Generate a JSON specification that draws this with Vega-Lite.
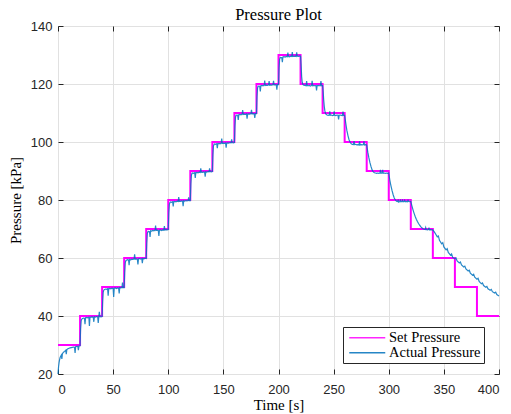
{
  "$schema": "https://vega.github.io/schema/vega-lite/v6.json",
  "width": 441,
  "height": 348,
  "autosize": "none",
  "padding": {"left": 58, "top": 26, "right": 12, "bottom": 40},
  "background": "white",
  "title": {"text": "Pressure Plot", "font": "Liberation Serif", "fontSize": 16.5, "fontWeight": "normal", "color": "#000000", "offset": -3, "anchor": "middle"},
  "config": {
    "view": {"stroke": "#262626", "strokeWidth": 1},
    "axis": {
      "domain": false,
      "labelFont": "Liberation Sans",
      "labelFontSize": 13,
      "labelColor": "#262626",
      "titleFont": "Liberation Serif",
      "titleFontSize": 15,
      "titleFontWeight": "normal",
      "titleColor": "#000000",
      "tickColor": "#262626",
      "tickSize": -5,
      "labelPadding": 11,
      "gridColor": "#e1e1e1",
      "gridWidth": 1
    }
  },
  "datasets": {
    "set": [
      {"t": 0, "p": 30}, {"t": 20, "p": 40}, {"t": 40, "p": 50}, {"t": 60, "p": 60}, {"t": 80, "p": 70},
      {"t": 100, "p": 80}, {"t": 120, "p": 90}, {"t": 140, "p": 100}, {"t": 160, "p": 110}, {"t": 180, "p": 120},
      {"t": 200, "p": 130}, {"t": 220, "p": 120}, {"t": 240, "p": 110}, {"t": 260, "p": 100}, {"t": 280, "p": 90},
      {"t": 300, "p": 80}, {"t": 320, "p": 70}, {"t": 340, "p": 60}, {"t": 360, "p": 50}, {"t": 380, "p": 40}, {"t": 400, "p": 40}
    ],
    "actual": [
      {"t": 0, "p": 20}, {"t": 0.5, "p": 22.5}, {"t": 1, "p": 24}, {"t": 1.5, "p": 25}, {"t": 2, "p": 25.8}, {"t": 3, "p": 26.5}, {"t": 3.5, "p": 25.2}, {"t": 4, "p": 27}, {"t": 5, "p": 27.5}, {"t": 6, "p": 27.8}, {"t": 7, "p": 28.2}, {"t": 7.5, "p": 26.8}, {"t": 8, "p": 28.4}, {"t": 9, "p": 28.7}, {"t": 10, "p": 28.9}, {"t": 11, "p": 29}, {"t": 12, "p": 29.1}, {"t": 13, "p": 29.2}, {"t": 14, "p": 29.3}, {"t": 15, "p": 29.2}, {"t": 15.5, "p": 27.3}, {"t": 16, "p": 29.4}, {"t": 17, "p": 29.5}, {"t": 18, "p": 29.5}, {"t": 18.5, "p": 28.2}, {"t": 19, "p": 29.6}, {"t": 20, "p": 29.7},
      {"t": 20.5, "p": 35.5}, {"t": 21, "p": 38.3}, {"t": 21.5, "p": 38.9}, {"t": 22, "p": 39.1}, {"t": 23, "p": 39.3}, {"t": 24, "p": 39.2}, {"t": 24.5, "p": 37.2}, {"t": 25, "p": 39.4}, {"t": 26, "p": 39.5}, {"t": 27, "p": 39.4}, {"t": 28, "p": 39.6}, {"t": 28.5, "p": 36.6}, {"t": 29, "p": 39.5}, {"t": 30, "p": 39.6}, {"t": 31, "p": 39.7}, {"t": 32, "p": 39.5}, {"t": 32.5, "p": 38}, {"t": 33, "p": 39.7}, {"t": 34, "p": 39.6}, {"t": 35, "p": 39.8}, {"t": 36, "p": 39.7}, {"t": 36.5, "p": 37.6}, {"t": 37, "p": 39.8}, {"t": 37.5, "p": 41.4}, {"t": 38, "p": 39.8}, {"t": 39, "p": 39.7}, {"t": 40, "p": 39.8},
      {"t": 40.5, "p": 45}, {"t": 41, "p": 48.2}, {"t": 41.5, "p": 48.9}, {"t": 42, "p": 49.1}, {"t": 43, "p": 49.3}, {"t": 44, "p": 49.2}, {"t": 45, "p": 49.4}, {"t": 45.5, "p": 47}, {"t": 46, "p": 49.4}, {"t": 47, "p": 49.5}, {"t": 48, "p": 49.4}, {"t": 49, "p": 49.6}, {"t": 50, "p": 49.5}, {"t": 50.5, "p": 46.6}, {"t": 51, "p": 49.6}, {"t": 52, "p": 49.7}, {"t": 53, "p": 49.5}, {"t": 54, "p": 49.7}, {"t": 55, "p": 49.6}, {"t": 55.5, "p": 47.8}, {"t": 56, "p": 49.8}, {"t": 57, "p": 49.7}, {"t": 58, "p": 49.8}, {"t": 58.5, "p": 51.5}, {"t": 59, "p": 49.8}, {"t": 60, "p": 49.8},
      {"t": 60.5, "p": 55}, {"t": 61, "p": 58.3}, {"t": 61.5, "p": 59}, {"t": 62, "p": 59.2}, {"t": 63, "p": 59.4}, {"t": 64, "p": 59.3}, {"t": 64.5, "p": 57.5}, {"t": 65, "p": 59.5}, {"t": 66, "p": 59.4}, {"t": 67, "p": 59.6}, {"t": 68, "p": 59.5}, {"t": 69, "p": 59.7}, {"t": 69.5, "p": 61.3}, {"t": 70, "p": 59.6}, {"t": 71, "p": 59.7}, {"t": 72, "p": 59.5}, {"t": 72.5, "p": 57.8}, {"t": 73, "p": 59.7}, {"t": 74, "p": 59.8}, {"t": 75, "p": 59.6}, {"t": 76, "p": 59.8}, {"t": 76.5, "p": 58.2}, {"t": 77, "p": 59.8}, {"t": 78, "p": 59.7}, {"t": 79, "p": 59.9}, {"t": 80, "p": 59.8},
      {"t": 80.5, "p": 65}, {"t": 81, "p": 68.4}, {"t": 81.5, "p": 69}, {"t": 82, "p": 69.2}, {"t": 83, "p": 69.1}, {"t": 83.5, "p": 67.3}, {"t": 84, "p": 69.4}, {"t": 85, "p": 69.3}, {"t": 86, "p": 69.5}, {"t": 87, "p": 69.4}, {"t": 88, "p": 69.6}, {"t": 88.5, "p": 71.2}, {"t": 89, "p": 69.5}, {"t": 90, "p": 69.6}, {"t": 91, "p": 69.4}, {"t": 91.5, "p": 67.6}, {"t": 92, "p": 69.6}, {"t": 93, "p": 69.7}, {"t": 94, "p": 69.5}, {"t": 95, "p": 69.7}, {"t": 96, "p": 69.6}, {"t": 96.5, "p": 71}, {"t": 97, "p": 69.7}, {"t": 98, "p": 69.8}, {"t": 99, "p": 69.7}, {"t": 100, "p": 69.8},
      {"t": 100.5, "p": 75.5}, {"t": 101, "p": 78.5}, {"t": 101.5, "p": 79.1}, {"t": 102, "p": 79.3}, {"t": 103, "p": 79.2}, {"t": 104, "p": 79.4}, {"t": 104.5, "p": 77.8}, {"t": 105, "p": 79.4}, {"t": 106, "p": 79.5}, {"t": 107, "p": 79.4}, {"t": 108, "p": 79.6}, {"t": 109, "p": 79.5}, {"t": 109.5, "p": 81}, {"t": 110, "p": 79.6}, {"t": 111, "p": 79.5}, {"t": 112, "p": 79.7}, {"t": 113, "p": 79.6}, {"t": 113.5, "p": 77.9}, {"t": 114, "p": 79.7}, {"t": 115, "p": 79.6}, {"t": 116, "p": 79.8}, {"t": 117, "p": 79.7}, {"t": 118, "p": 79.8}, {"t": 118.5, "p": 80.9}, {"t": 119, "p": 79.8}, {"t": 120, "p": 79.8},
      {"t": 120.5, "p": 85.5}, {"t": 121, "p": 88.6}, {"t": 121.5, "p": 89.1}, {"t": 122, "p": 89.3}, {"t": 123, "p": 89.2}, {"t": 124, "p": 89.4}, {"t": 124.5, "p": 87.6}, {"t": 125, "p": 89.4}, {"t": 126, "p": 89.5}, {"t": 127, "p": 89.4}, {"t": 128, "p": 89.6}, {"t": 129, "p": 89.5}, {"t": 129.5, "p": 90.9}, {"t": 130, "p": 89.6}, {"t": 131, "p": 89.5}, {"t": 132, "p": 89.7}, {"t": 133, "p": 89.6}, {"t": 133.5, "p": 88}, {"t": 134, "p": 89.7}, {"t": 135, "p": 89.6}, {"t": 136, "p": 89.8}, {"t": 137, "p": 89.7}, {"t": 137.5, "p": 90.9}, {"t": 138, "p": 89.8}, {"t": 139, "p": 89.7}, {"t": 140, "p": 89.8},
      {"t": 140.5, "p": 95.5}, {"t": 141, "p": 98.6}, {"t": 141.5, "p": 99.1}, {"t": 142, "p": 99.3}, {"t": 143, "p": 99.2}, {"t": 144, "p": 99.4}, {"t": 144.5, "p": 97.9}, {"t": 145, "p": 99.4}, {"t": 146, "p": 99.5}, {"t": 147, "p": 99.4}, {"t": 148, "p": 99.6}, {"t": 148.5, "p": 101.2}, {"t": 149, "p": 99.5}, {"t": 150, "p": 99.6}, {"t": 151, "p": 99.5}, {"t": 152, "p": 99.7}, {"t": 152.5, "p": 98}, {"t": 153, "p": 99.6}, {"t": 154, "p": 99.7}, {"t": 155, "p": 99.6}, {"t": 156, "p": 99.8}, {"t": 157, "p": 99.7}, {"t": 157.5, "p": 100.9}, {"t": 158, "p": 99.8}, {"t": 159, "p": 99.7}, {"t": 160, "p": 99.8},
      {"t": 160.5, "p": 105.5}, {"t": 161, "p": 108.6}, {"t": 161.5, "p": 109.2}, {"t": 162, "p": 109.3}, {"t": 163, "p": 109.2}, {"t": 163.5, "p": 107.6}, {"t": 164, "p": 109.4}, {"t": 165, "p": 109.5}, {"t": 166, "p": 109.4}, {"t": 167, "p": 109.6}, {"t": 167.5, "p": 111}, {"t": 168, "p": 109.5}, {"t": 169, "p": 109.6}, {"t": 170, "p": 109.5}, {"t": 171, "p": 109.7}, {"t": 171.5, "p": 108}, {"t": 172, "p": 109.6}, {"t": 173, "p": 109.7}, {"t": 174, "p": 109.6}, {"t": 175, "p": 109.8}, {"t": 175.5, "p": 111.1}, {"t": 176, "p": 109.7}, {"t": 177, "p": 109.8}, {"t": 178, "p": 109.7}, {"t": 178.5, "p": 108.3}, {"t": 179, "p": 109.8}, {"t": 180, "p": 109.8},
      {"t": 180.5, "p": 115.5}, {"t": 181, "p": 118.6}, {"t": 181.5, "p": 119.2}, {"t": 182, "p": 119.3}, {"t": 183, "p": 119.2}, {"t": 183.5, "p": 117.4}, {"t": 184, "p": 119.4}, {"t": 185, "p": 119.5}, {"t": 186, "p": 119.4}, {"t": 187, "p": 119.6}, {"t": 187.5, "p": 121.2}, {"t": 188, "p": 119.5}, {"t": 189, "p": 119.6}, {"t": 190, "p": 119.5}, {"t": 191, "p": 119.7}, {"t": 191.5, "p": 121}, {"t": 192, "p": 119.6}, {"t": 193, "p": 119.7}, {"t": 194, "p": 119.6}, {"t": 195, "p": 119.8}, {"t": 195.5, "p": 121.1}, {"t": 196, "p": 119.7}, {"t": 197, "p": 119.8}, {"t": 198, "p": 119.7}, {"t": 198.5, "p": 118}, {"t": 199, "p": 119.8}, {"t": 200, "p": 119.8},
      {"t": 200.5, "p": 125.5}, {"t": 201, "p": 128.5}, {"t": 201.5, "p": 129.1}, {"t": 202, "p": 129.2}, {"t": 203, "p": 129.1}, {"t": 203.5, "p": 127.5}, {"t": 204, "p": 129.3}, {"t": 205, "p": 129.4}, {"t": 206, "p": 129.3}, {"t": 207, "p": 129.5}, {"t": 208, "p": 129.4}, {"t": 208.5, "p": 130.8}, {"t": 209, "p": 129.5}, {"t": 210, "p": 129.4}, {"t": 211, "p": 129.6}, {"t": 212, "p": 129.5}, {"t": 212.5, "p": 131}, {"t": 213, "p": 129.6}, {"t": 214, "p": 129.5}, {"t": 215, "p": 129.6}, {"t": 216, "p": 129.5}, {"t": 216.5, "p": 130.9}, {"t": 217, "p": 129.6}, {"t": 218, "p": 129.5}, {"t": 219, "p": 129.6}, {"t": 220, "p": 129.6},
      {"t": 220.5, "p": 126.5}, {"t": 221, "p": 122.5}, {"t": 221.5, "p": 120.6}, {"t": 222, "p": 119.9}, {"t": 223, "p": 119.6}, {"t": 224, "p": 119.5}, {"t": 225, "p": 119.4}, {"t": 225.5, "p": 121}, {"t": 226, "p": 119.5}, {"t": 227, "p": 119.4}, {"t": 228, "p": 119.5}, {"t": 229, "p": 119.3}, {"t": 230, "p": 119.5}, {"t": 230.5, "p": 121.1}, {"t": 231, "p": 119.4}, {"t": 232, "p": 119.5}, {"t": 233, "p": 119.4}, {"t": 234, "p": 119.5}, {"t": 234.5, "p": 117.8}, {"t": 235, "p": 119.4}, {"t": 236, "p": 119.5}, {"t": 237, "p": 119.4}, {"t": 238, "p": 119.5}, {"t": 238.5, "p": 121}, {"t": 239, "p": 119.4}, {"t": 240, "p": 119.5},
      {"t": 240.5, "p": 117.5}, {"t": 241, "p": 114.5}, {"t": 241.5, "p": 112.3}, {"t": 242, "p": 110.9}, {"t": 242.5, "p": 110}, {"t": 243, "p": 109.6}, {"t": 244, "p": 109.3}, {"t": 245, "p": 109.2}, {"t": 246, "p": 109.3}, {"t": 246.5, "p": 110.6}, {"t": 247, "p": 109.2}, {"t": 248, "p": 109.3}, {"t": 249, "p": 109.1}, {"t": 250, "p": 109.2}, {"t": 250.5, "p": 110.6}, {"t": 251, "p": 109.2}, {"t": 252, "p": 109.1}, {"t": 253, "p": 109.3}, {"t": 254, "p": 109.2}, {"t": 254.5, "p": 107.8}, {"t": 255, "p": 109.2}, {"t": 256, "p": 109.3}, {"t": 257, "p": 109.2}, {"t": 258, "p": 109.1}, {"t": 258.5, "p": 110.5}, {"t": 259, "p": 109.2}, {"t": 260, "p": 109.2},
      {"t": 261, "p": 106.5}, {"t": 262, "p": 104}, {"t": 263, "p": 102.2}, {"t": 264, "p": 100.8}, {"t": 265, "p": 99.9}, {"t": 266, "p": 99.4}, {"t": 267, "p": 99.2}, {"t": 268, "p": 99.1}, {"t": 268.5, "p": 100.3}, {"t": 269, "p": 99.1}, {"t": 270, "p": 99.2}, {"t": 271, "p": 99}, {"t": 272, "p": 99.1}, {"t": 273, "p": 99}, {"t": 273.5, "p": 100.2}, {"t": 274, "p": 99}, {"t": 275, "p": 99.1}, {"t": 276, "p": 99}, {"t": 277, "p": 99.1}, {"t": 277.5, "p": 100.2}, {"t": 278, "p": 99}, {"t": 279, "p": 99.1}, {"t": 280, "p": 99},
      {"t": 281, "p": 96.5}, {"t": 282, "p": 94.5}, {"t": 283, "p": 92.8}, {"t": 284, "p": 91.4}, {"t": 285, "p": 90.3}, {"t": 286, "p": 89.7}, {"t": 287, "p": 89.4}, {"t": 288, "p": 89.3}, {"t": 289, "p": 89.2}, {"t": 290, "p": 89.3}, {"t": 291, "p": 89.2}, {"t": 292, "p": 89.3}, {"t": 292.5, "p": 90.4}, {"t": 293, "p": 89.2}, {"t": 294, "p": 89.3}, {"t": 294.5, "p": 90.4}, {"t": 295, "p": 89.2}, {"t": 296, "p": 89.3}, {"t": 297, "p": 89.2}, {"t": 298, "p": 89.3}, {"t": 299, "p": 89.2}, {"t": 300, "p": 89.3},
      {"t": 301, "p": 86.8}, {"t": 302, "p": 84.9}, {"t": 303, "p": 83.2}, {"t": 304, "p": 81.8}, {"t": 305, "p": 80.7}, {"t": 306, "p": 80}, {"t": 307, "p": 79.6}, {"t": 308, "p": 79.5}, {"t": 308.5, "p": 79.9}, {"t": 309, "p": 79.3}, {"t": 310, "p": 79.5}, {"t": 310.5, "p": 79.9}, {"t": 311, "p": 79.4}, {"t": 312, "p": 79.5}, {"t": 312.5, "p": 79.9}, {"t": 313, "p": 79.4}, {"t": 314, "p": 79.5}, {"t": 314.5, "p": 79.9}, {"t": 315, "p": 79.4}, {"t": 316, "p": 79.5}, {"t": 317, "p": 79.4}, {"t": 317.5, "p": 79.9}, {"t": 318, "p": 79.5}, {"t": 319, "p": 79.4}, {"t": 320, "p": 79.5},
      {"t": 321, "p": 78}, {"t": 322, "p": 76.6}, {"t": 323, "p": 75.4}, {"t": 324, "p": 74.3}, {"t": 325, "p": 73.4}, {"t": 326, "p": 72.6}, {"t": 327, "p": 71.9}, {"t": 328, "p": 71.3}, {"t": 329, "p": 70.8}, {"t": 330, "p": 70.4}, {"t": 331, "p": 70.1}, {"t": 332, "p": 69.9}, {"t": 333, "p": 69.8}, {"t": 333.5, "p": 70.5}, {"t": 334, "p": 69.8}, {"t": 335, "p": 69.7}, {"t": 336, "p": 69.8}, {"t": 336.5, "p": 70.5}, {"t": 337, "p": 69.7}, {"t": 338, "p": 69.8}, {"t": 339, "p": 69.7}, {"t": 340, "p": 69.7},
      {"t": 341, "p": 69.2}, {"t": 342, "p": 68.6}, {"t": 344, "p": 67.3}, {"t": 345, "p": 67.6}, {"t": 346, "p": 66.1}, {"t": 348, "p": 64.9}, {"t": 349, "p": 65.3}, {"t": 350, "p": 63.8}, {"t": 352, "p": 62.8}, {"t": 353, "p": 63.2}, {"t": 354, "p": 61.9}, {"t": 356, "p": 61}, {"t": 357, "p": 61.4}, {"t": 358, "p": 60.2}, {"t": 360, "p": 59.7}, {"t": 361, "p": 60}, {"t": 362, "p": 59}, {"t": 364, "p": 58.3}, {"t": 365, "p": 58.6}, {"t": 366, "p": 57.6}, {"t": 368, "p": 56.9}, {"t": 369, "p": 57.2}, {"t": 370, "p": 56.2}, {"t": 372, "p": 55.5}, {"t": 373, "p": 55.8}, {"t": 374, "p": 54.8}, {"t": 376, "p": 54.1}, {"t": 377, "p": 54.4}, {"t": 378, "p": 53.4}, {"t": 380, "p": 52.7}, {"t": 381, "p": 53}, {"t": 382, "p": 51.9}, {"t": 384, "p": 51.1}, {"t": 385, "p": 51.4}, {"t": 386, "p": 50.5}, {"t": 388, "p": 49.9}, {"t": 389, "p": 50.2}, {"t": 390, "p": 49.4}, {"t": 392, "p": 48.9}, {"t": 393, "p": 49.2}, {"t": 394, "p": 48.4}, {"t": 396, "p": 47.9}, {"t": 397, "p": 48.2}, {"t": 398, "p": 47.4}, {"t": 400, "p": 46.9}
    ]
  },
  "layer": [
    {
      "data": {"name": "set"},
      "mark": {"type": "line", "interpolate": "step-after", "strokeWidth": 2},
      "encoding": {
        "x": {"field": "t", "type": "quantitative", "scale": {"domain": [0, 400], "nice": false},
              "axis": {"orient": "bottom", "values": [0, 50, 100, 150, 200, 250, 300, 350, 400], "title": "Time [s]", "labelPadding": 14, "titlePadding": 1, "grid": true}},
        "y": {"field": "p", "type": "quantitative", "scale": {"domain": [20, 140], "nice": false, "zero": false},
              "axis": {"orient": "left", "values": [20, 40, 60, 80, 100, 120, 140], "title": "Pressure [kPa]", "titlePadding": 7, "grid": true}},
        "color": {"datum": "Set Pressure", "type": "nominal",
                  "scale": {"domain": ["Set Pressure", "Actual Pressure"], "range": ["#FF00FF", "#0072BD"]},
                  "legend": {"orient": "none", "legendX": 285, "legendY": 301, "direction": "vertical", "title": null,
                             "strokeColor": "#262626", "fillColor": "white", "padding": 3.5, "symbolType": "M-1,0H7",
                             "symbolSize": 81, "symbolStrokeWidth": 1.5, "labelFont": "Liberation Serif", "labelFontSize": 14.5,
                             "labelColor": "#000000", "rowPadding": 0, "labelOffset": 28, "cornerRadius": 0}}
      }
    },
    {
      "data": {"name": "actual"},
      "mark": {"type": "line", "strokeWidth": 1.2, "opacity": 0.85},
      "encoding": {
        "x": {"field": "t", "type": "quantitative",
              "axis": {"orient": "top", "values": [0, 50, 100, 150, 200, 250, 300, 350, 400], "title": null, "labels": false, "grid": false}},
        "y": {"field": "p", "type": "quantitative",
              "axis": {"orient": "right", "values": [20, 40, 60, 80, 100, 120, 140], "title": null, "labels": false, "grid": false}},
        "color": {"datum": "Actual Pressure", "type": "nominal"}
      }
    }
  ],
  "resolve": {"axis": {"x": "independent", "y": "independent"}}
}
